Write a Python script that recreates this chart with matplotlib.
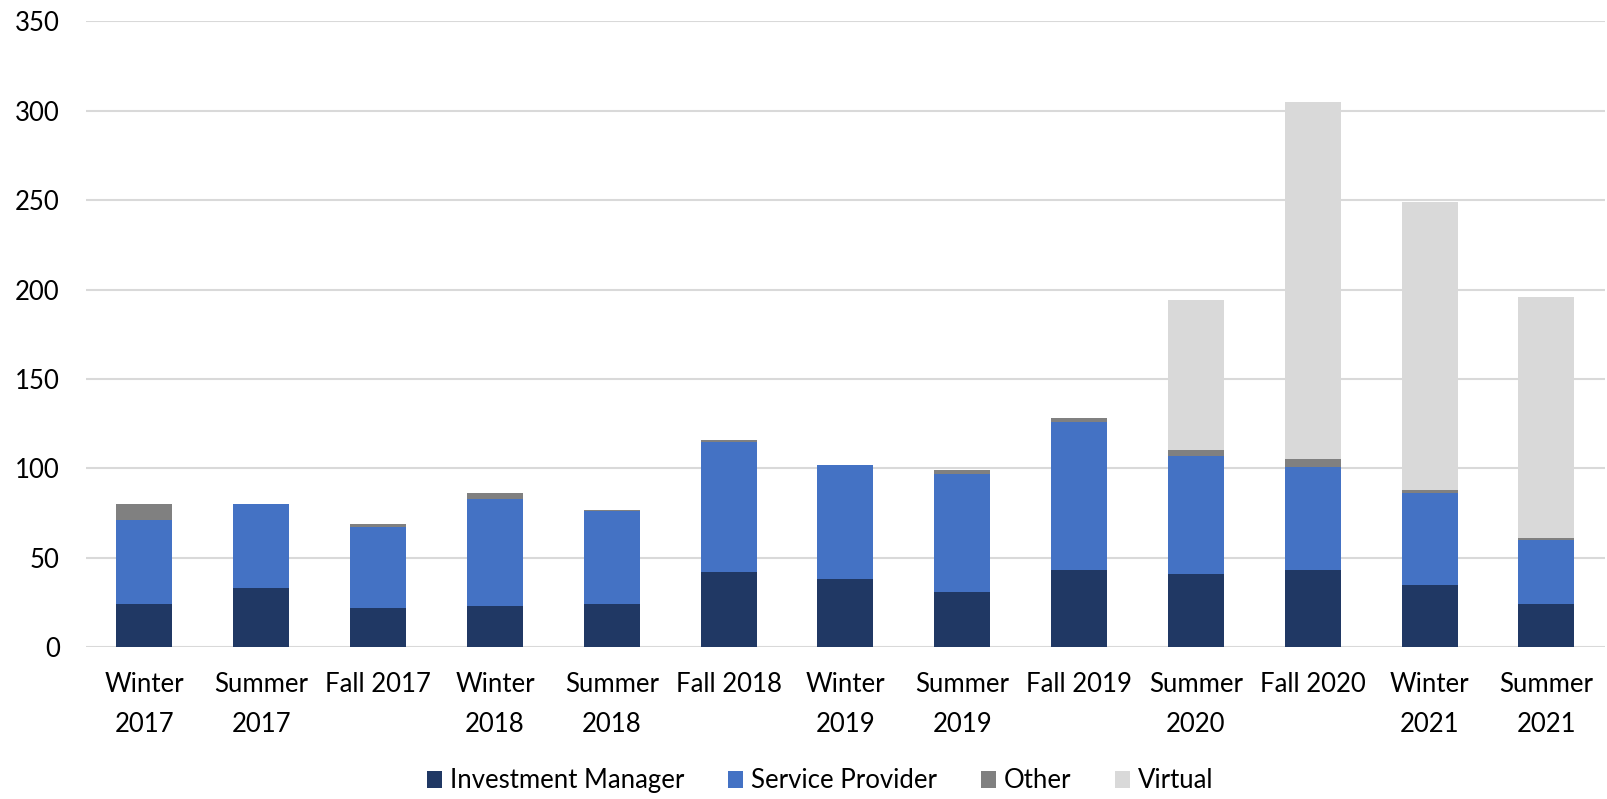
import matplotlib
matplotlib.use("Agg")
import matplotlib.pyplot as plt
import numpy as np

categories = ["Winter\n2017", "Summer\n2017", "Fall 2017", "Winter\n2018", "Summer\n2018",
              "Fall 2018", "Winter\n2019", "Summer\n2019", "Fall 2019", "Summer\n2020",
              "Fall 2020", "Winter\n2021", "Summer\n2021"]
investment_manager = [24, 33, 22, 23, 24, 42, 38, 31, 43, 41, 43, 35, 24]
service_provider = [47, 47, 45, 60, 52, 73, 64, 66, 83, 66, 58, 51, 36]
other = [9, 0, 2, 3, 1, 1, 0, 2, 2, 3, 4, 2, 1]
virtual = [0, 0, 0, 0, 0, 0, 0, 0, 0, 84, 200, 161, 135]
y_ticks = [0, 50, 100, 150, 200, 250, 300, 350]

series = [("Investment Manager", investment_manager, "#203864"),
          ("Service Provider", service_provider, "#4472C4"),
          ("Other", other, "#808080"),
          ("Virtual", virtual, "#D9D9D9")]

plt.rcParams['font.family'] = ['Lato', 'DejaVu Sans']
fig = plt.figure(figsize=(16.08, 7.99), dpi=100)
ax = fig.add_axes([0.0535, 0.19, 0.9445, 0.7833])

x = np.arange(len(categories))
bottom = np.zeros(len(categories))
for name, vals, col in series:
    v = np.array(vals, dtype=float)
    ax.bar(x, v, width=0.48, bottom=bottom, color=col, label=name,
           linewidth=0, zorder=3)
    bottom += v

ax.set_ylim(0, 350)
ax.set_xlim(-0.5, len(categories) - 0.5)
ax.set_yticks(y_ticks)
ax.set_yticklabels([str(t) for t in y_ticks])
ax.set_xticks(x)
ax.set_xticklabels(categories, linespacing=1.75)
ax.tick_params(axis='both', length=0, labelsize=18.5, colors="black")
ax.tick_params(axis='x', pad=18)
ax.tick_params(axis='y', pad=19)
ax.grid(axis='y', color="#D9D9D9", linewidth=1.5, zorder=0)
for s in ax.spines.values():
    s.set_visible(False)

fig.legend(loc="lower center", bbox_to_anchor=(0.51, -0.022), ncol=4, frameon=False,
           fontsize=18.5, handlelength=0.6, handleheight=0.6, handletextpad=0.3,
           columnspacing=1.7)

fig.savefig("out.png", dpi=100)
